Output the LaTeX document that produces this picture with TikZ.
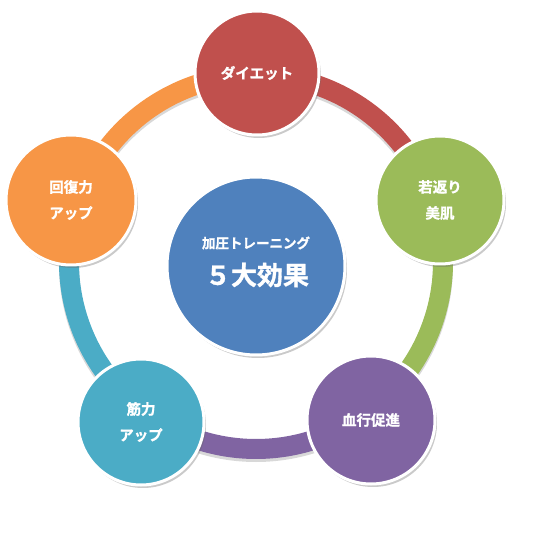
\documentclass[tikz,border=0pt]{standalone}
\usepackage{fontspec}
\newfontfamily\jp{Noto Sans CJK JP Bold}[FakeBold=1.2]
\usetikzlibrary{shadows}
\definecolor{cred}{HTML}{C0504D}
\definecolor{cgreen}{HTML}{9BBB59}
\definecolor{cpurple}{HTML}{8064A2}
\definecolor{ccyan}{HTML}{4BACC6}
\definecolor{corange}{HTML}{F79646}
\definecolor{cblue}{HTML}{4F81BD}
\begin{document}
\begin{tikzpicture}[x=1pt,y=1pt,
  bubble/.style={circle,draw=white,line width=3pt,inner sep=0pt,
    text=white,font=\jp\fontsize{14.5}{26}\selectfont,align=center,
    drop shadow={shadow xshift=2pt,shadow yshift=-3pt,opacity=0.35,fill=black!60}},
  band/.style={line width=20pt}]
\useasboundingbox (0,0) rectangle (539,539);
\coordinate (c) at (256,277);
% ring shadow
\draw[band,black!30,opacity=0.5] ([yshift=-3pt]c) circle[radius=187];
\draw[band,cred] ([shift={(90:187)}]c) arc[start angle=90,end angle=18,radius=187];
\draw[band,cgreen] ([shift={(18:187)}]c) arc[start angle=18,end angle=-54,radius=187];
\draw[band,cpurple] ([shift={(-54:187)}]c) arc[start angle=-54,end angle=-126,radius=187];
\draw[band,ccyan] ([shift={(-126:187)}]c) arc[start angle=-126,end angle=-198,radius=187];
\draw[band,corange] ([shift={(162:187)}]c) arc[start angle=162,end angle=90,radius=187];
% nodes
\node[bubble,fill=cred,minimum size=124pt] (diet) at (257,466) {ダイエット};
\node[bubble,fill=cgreen,minimum size=128pt] (skin) at (440,339) {若返り\\美肌};
\node[bubble,fill=cpurple,minimum size=128pt] (blood) at (371,119) {血行促進};
\node[bubble,fill=ccyan,minimum size=126pt] (muscle) at (141,117) {筋力\\アップ};
\node[bubble,fill=corange,minimum size=130pt] (recov) at (71,339) {回復力\\アップ};
\node[bubble,fill=cblue,minimum size=178pt] (center) at (256,273) {};
\node[text=white,font=\jp\fontsize{13.5}{13.5}\selectfont] (t1) at (256,296) {加圧トレーニング};
\node[text=white,font=\jp\fontsize{26}{26}\selectfont] (t2) at (257,264) {５大効果};
\end{tikzpicture}
\end{document}
